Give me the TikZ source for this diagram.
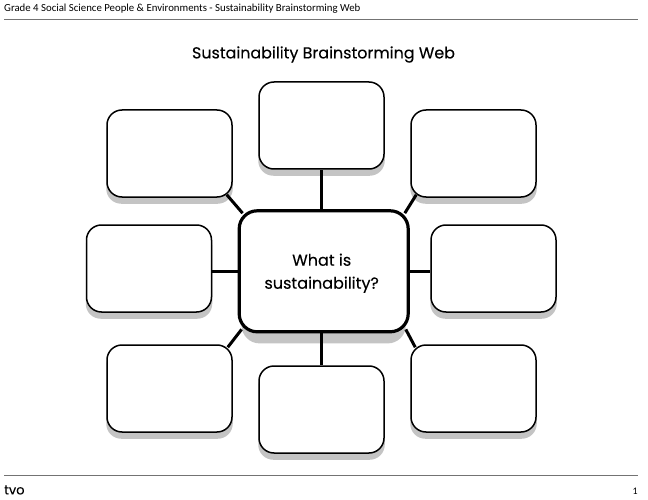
\documentclass[tikz,border=0pt]{standalone}
\usepackage{fontspec}
\setmainfont{Open Sans}
\newfontfamily\titlefont[FakeBold=0.12]{Poppins}
\newfontfamily\headfont{Carlito}
\pgfdeclarelayer{shadowlayer}
\pgfdeclarelayer{connlayer}
\pgfsetlayers{shadowlayer,connlayer,main}
\tikzset{
  x=1pt,y=-1pt,
  box/.style={draw=black,fill=white,line width=1.5pt,rounded corners=15pt,inner sep=0pt,
    minimum width=125pt,minimum height=87pt},
  hub/.style={draw=black,fill=white,line width=3.2pt,rounded corners=18pt,inner sep=0pt,
    minimum width=169pt,minimum height=121pt,align=center,font=\titlefont\fontsize{16}{23}\selectfont},
  conn/.style={draw=black,line width=3pt},
  rulegray/.style={draw=black!55,line width=1pt},
  shade/.style={fill=black!23,rounded corners=15pt}
}
\begin{document}
\begin{tikzpicture}
\useasboundingbox (0,0) rectangle (648,500);
\node[anchor=west,inner sep=0pt,font=\headfont\fontsize{10.8}{12}\selectfont] (head) at (4,8.5) {Grade 4 Social Science People \& Environments - Sustainability Brainstorming Web};
\coordinate (r1a) at (4,20); \coordinate (r1b) at (638,20);
\draw[rulegray] (r1a) -- (r1b);
\node[inner sep=0pt,font=\titlefont\fontsize{15.9}{18}\selectfont] (title) at (323.5,54.5) {Sustainability Brainstorming Web};
\node[hub] (c) at (323.7,271.3) {\rule{0pt}{16pt}What is\hspace*{4pt}\\sustainability?\hspace*{4pt}};
\node[box] (t) at (321.5,125.5) {};
\node[box] (tl) at (169.5,153.5) {};
\node[box] (tr) at (473.5,153.5) {};
\node[box] (l) at (149,268.5) {};
\node[box] (r) at (493.5,268.5) {};
\node[box] (bl) at (169.5,388.5) {};
\node[box] (b) at (321.5,409.5) {};
\node[box] (br) at (473.5,388.5) {};
\begin{pgfonlayer}{shadowlayer}
\foreach \n in {t,tl,tr,l,r,bl,b,br}{
  \fill[shade] ([yshift=-6pt]\n.south west) rectangle ([yshift=-6pt]\n.north east);
}
\fill[shade,rounded corners=18pt] ([yshift=-10pt,xshift=4pt]c.south west) rectangle ([yshift=-10pt,xshift=-4pt]c.north east);
\end{pgfonlayer}
\begin{pgfonlayer}{connlayer}
\draw[conn] (c.north -| t.south) -- (t.south);
\draw[conn] (c.south -| b.north) -- (b.north);
\draw[conn] (c.west) -- (c.west -| l.east);
\draw[conn] (c.east) -- (c.east -| r.west);
\draw[conn] ([xshift=-6pt,yshift=3pt]tl.south east) -- ([xshift=5pt,yshift=-4pt]c.north west);
\draw[conn] ([xshift=6pt,yshift=3pt]tr.south west) -- ([xshift=-5pt,yshift=-4pt]c.north east);
\draw[conn] ([xshift=-5pt,yshift=-3pt]bl.north east) -- ([xshift=4pt,yshift=4pt]c.south west);
\draw[conn] ([xshift=5pt,yshift=-3pt]br.north west) -- ([xshift=-4pt,yshift=4pt]c.south east);
\end{pgfonlayer}
\coordinate (r2a) at (4,475); \coordinate (r2b) at (638,475);
\draw[rulegray] (r2a) -- (r2b);
\node[anchor=west,inner sep=0pt,font=\titlefont\fontsize{13}{16}\selectfont] (logo) at (4,490) {tvo};
\node[anchor=east,inner sep=0pt,font=\headfont\fontsize{10}{12}\selectfont] (page) at (638,491) {1};
\end{tikzpicture}
\end{document}
